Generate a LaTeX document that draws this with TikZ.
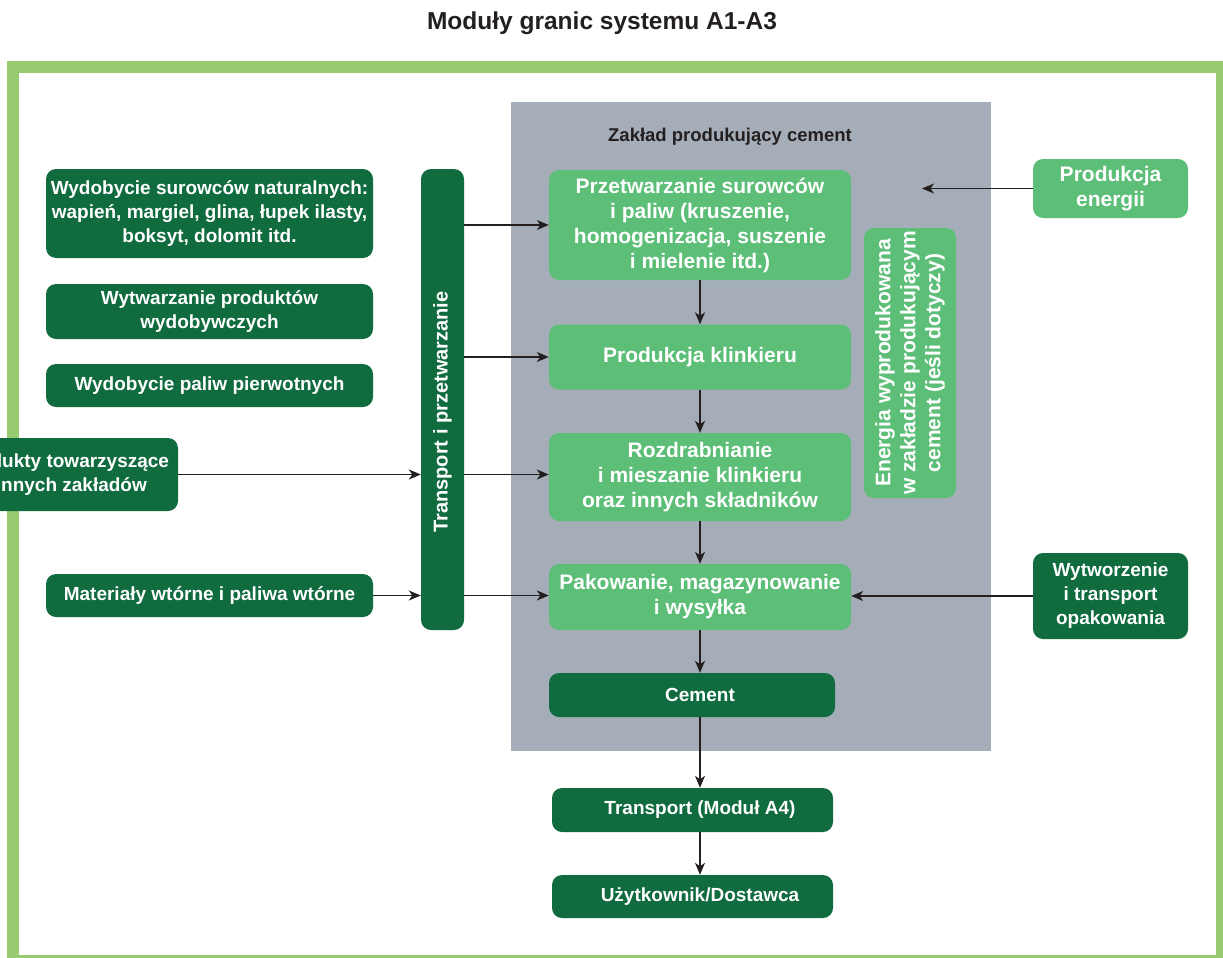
\documentclass[tikz,border=0pt]{standalone}
\usepackage{fontspec}
\setmainfont{Liberation Sans}
\usetikzlibrary{arrows.meta,positioning}

\definecolor{ciemny}{RGB}{16,107,62}
\definecolor{jasny}{RGB}{93,190,120}
\definecolor{ramka}{RGB}{151,203,111}
\definecolor{szary}{RGB}{165,174,184}
\definecolor{linia}{RGB}{35,31,32}

\begin{document}
\begin{tikzpicture}[x=1pt,y=1pt,yscale=-1,
    box/.style={rounded corners=10pt, text=white, align=center, inner sep=0pt},
    ciemnybox/.style={box, fill=ciemny, font=\fontsize{19}{24}\selectfont\bfseries},
    jasnybox/.style={box, fill=jasny, font=\fontsize{21}{25}\selectfont\bfseries},
    napis/.style={text=white, align=center, font=\fontsize{19}{24}\selectfont\bfseries},
    strzalka/.style={draw=linia, line width=1.4pt, -{Stealth[length=12pt,width=10pt,inset=3.5pt]}}
  ]
  \useasboundingbox (0,0) rectangle (1223,958);

  % Frame and plant area
  \draw [ramka, line width=12pt] (13,67.5) rectangle (1222,961);
  \node [fill=szary, minimum width=480, minimum height=649, inner sep=0pt] (obszar) at (751,426.5) {};

  % Text Node
  \node [text=linia, font=\fontsize{24.5}{28}\selectfont\bfseries] (tytul) at (602,23) {Moduły granic systemu A1-A3};
  % Text Node
  \node [text=linia, font=\fontsize{18.5}{22}\selectfont\bfseries] (zaklad) at (730,137) {Zakład produkujący cement};

  % Inputs (left)
  \node [ciemnybox, minimum width=327, minimum height=89] (wyd) at (209.5,213.5) {Wydobycie surowców naturalnych:\\wapień, margiel, glina, łupek ilasty,\\boksyt, dolomit itd.};
  \node [ciemnybox, minimum width=327, minimum height=55] (wyt) at (209.5,311.5) {Wytwarzanie produktów\\wydobywczych};
  \node [ciemnybox, minimum width=327, minimum height=43] (pal) at (209.5,385.5) {Wydobycie paliw pierwotnych};
  \node [ciemnybox, minimum width=228, minimum height=73] (pty) at (64,474.5) {Produkty towarzyszące\\z innych zakładów};
  \node [ciemnybox, minimum width=327, minimum height=43] (mat) at (209.5,595.5) {Materiały wtórne i paliwa wtórne};

  % Transport bar
  \node [ciemnybox, minimum width=43, minimum height=461] (trans) at (442.5,399.5) {};
  \node [napis, rotate=90, font=\fontsize{20}{24}\selectfont\bfseries] (transtxt) at (442.5,412) {Transport i przetwarzanie};

  % Plant steps
  \node [jasnybox, minimum width=302, minimum height=110] (prz) at (700,225) {Przetwarzanie surowców\\i paliw (kruszenie,\\homogenizacja, suszenie\\i mielenie itd.)};
  \node [jasnybox, minimum width=302, minimum height=65] (klin) at (700,357) {Produkcja klinkieru};
  \node [jasnybox, minimum width=302, minimum height=88] (rozd) at (700,477) {Rozdrabnianie\\i mieszanie klinkieru\\oraz innych składników};
  \node [jasnybox, minimum width=302, minimum height=66] (pak) at (700,597) {Pakowanie, magazynowanie\\i wysyłka};
  \node [jasnybox, rotate=90, minimum width=270, minimum height=92] (ener) at (910,363) {Energia wyprodukowana\\w zakładzie produkującym\\cement (jeśli dotyczy)};

  % Outputs
  \node [ciemnybox, minimum width=286, minimum height=44, label={[napis, xshift=8pt]center:Cement}] (cem) at (692,695) {};
  \node [ciemnybox, minimum width=281, minimum height=44, label={[napis, xshift=7.5pt]center:Transport (Moduł A4)}] (a4) at (692.5,810) {};
  \node [ciemnybox, minimum width=281, minimum height=43, label={[napis, xshift=7.5pt]center:Użytkownik/Dostawca}] (uzyt) at (692.5,896.5) {};

  % Inputs (right)
  \node [jasnybox, minimum width=155, minimum height=59] (pen) at (1110.5,188.5) {Produkcja\\energii};
  \node [ciemnybox, minimum width=155, minimum height=86] (opak) at (1110.5,596) {Wytworzenie\\i transport\\opakowania};
  \coordinate (cel) at (922,188.5);

  % Arrows
  \draw [strzalka] (trans.east |- prz.west) -- (prz.west);
  \draw [strzalka] (trans.east |- klin.west) -- (klin.west);
  \draw [strzalka] (pty.east) -- (pty.east -| trans.west);
  \draw [strzalka] (trans.east |- pty.east) -- (pty.east -| rozd.west);
  \draw [strzalka] (mat.east) -- (mat.east -| trans.west);
  \draw [strzalka] (trans.east |- mat.east) -- (mat.east -| pak.west);
  \draw [strzalka] (prz.south) -- (klin.north);
  \draw [strzalka] (klin.south) -- (rozd.north);
  \draw [strzalka] (rozd.south) -- (pak.north);
  \draw [strzalka] (pak.south) -- (pak.south |- cem.north);
  \draw [strzalka] (pak.south |- cem.south) -- (pak.south |- a4.north);
  \draw [strzalka] (pak.south |- a4.south) -- (pak.south |- uzyt.north);
  \draw [strzalka] (pen.west) -- (cel);
  \draw [strzalka] (opak.west) -- (opak.west -| pak.east);
\end{tikzpicture}
\end{document}
